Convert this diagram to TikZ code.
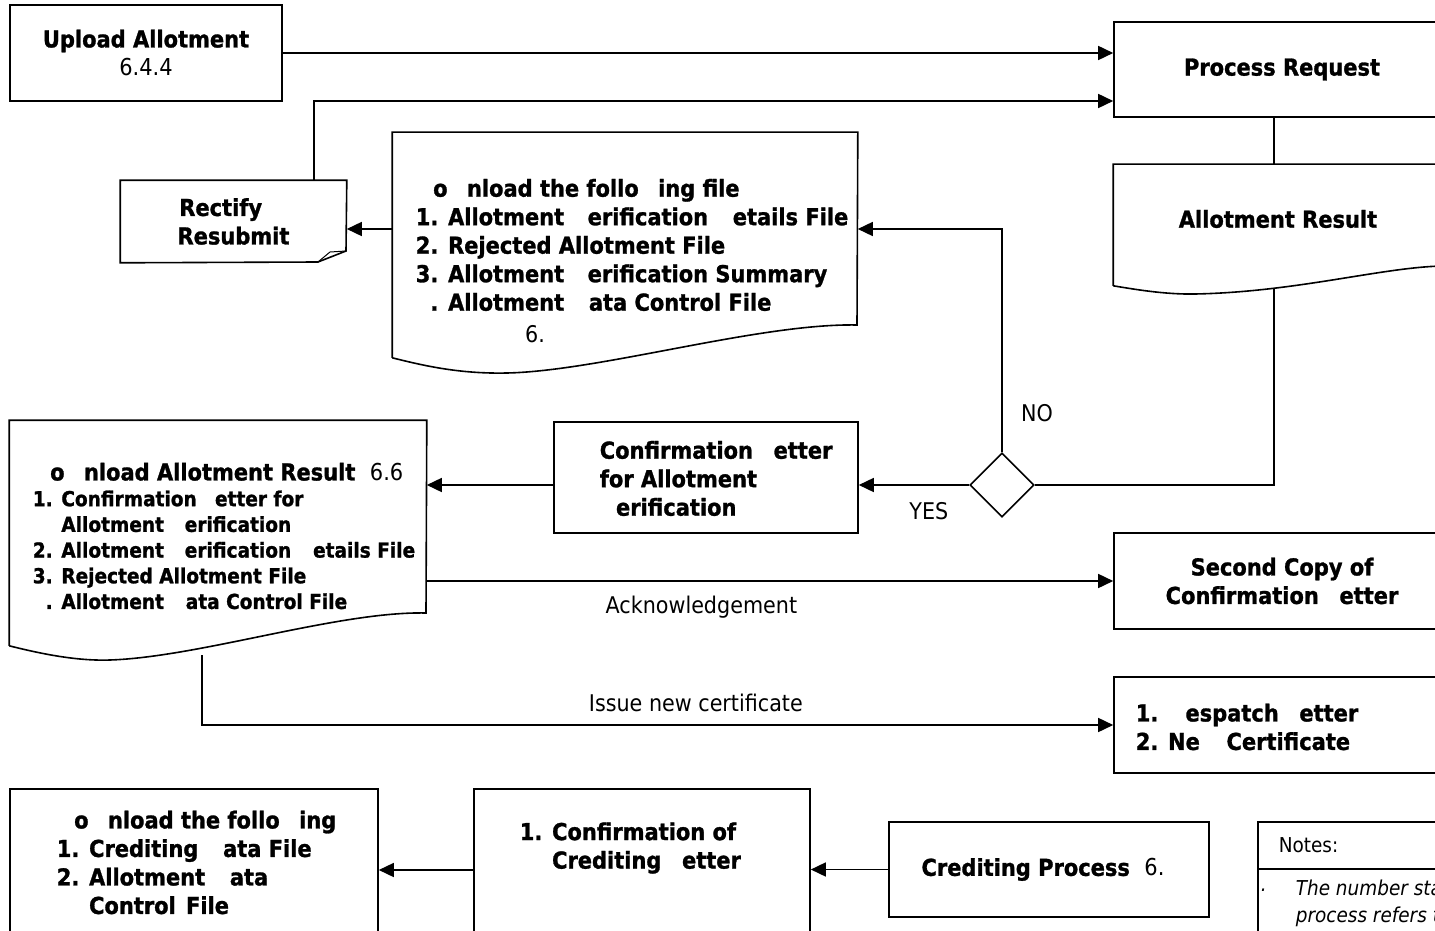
\documentclass[tikz,border=0pt]{standalone}
\usepackage{fontspec}
\setmainfont{DejaVu Sans}[FakeStretch=0.9, BoldFeatures={FakeBold=1.2}]
\usetikzlibrary{shapes.geometric,arrows.meta}
\begin{document}
\begin{tikzpicture}[x=1pt,y=-1pt,
  line width=1.6pt,
  box/.style={draw, rectangle, inner sep=0pt},
  frame/.style={rectangle, inner sep=0pt},
  txt/.style={inner sep=0pt, align=left, font=\fontsize{23.3}{28.5}\selectfont\bfseries},
  txtc/.style={txt, align=center},
  small/.style={inner sep=0pt, align=left, font=\fontsize{20.6}{25.7}\selectfont\bfseries},
  lbl/.style={inner sep=0pt, font=\fontsize{23}{28}\selectfont},
  note/.style={inner sep=0pt, align=left, font=\fontsize{20.5}{27}\selectfont},
  arr/.style={-{Triangle[length=15pt,width=14pt]}},
  decision/.style={draw, diamond, aspect=1, minimum width=64pt, minimum height=64pt, inner sep=0pt},
]
\useasboundingbox (0,0) rectangle (1435,931);
\clip (0,0) rectangle (1435,931);

% --- process boxes -------------------------------------------------------
\node[box, txtc, minimum width=272pt, minimum height=96pt] (upload) at (146,53)
  {Upload Allotment\\{\mdseries 6.4.4}};
\node[box, txtc, minimum width=336pt, minimum height=95pt] (proc) at (1282,69.5)
  {Process Request};
\node[box, minimum width=304pt, minimum height=111pt] (conf) at (706,477.5) {};
\node[box, txtc, minimum width=336pt, minimum height=96pt] (second) at (1282,581)
  {Second Copy of\\Confirmation \phantom{L}etter};
\node[box, minimum width=336pt, minimum height=96pt] (disp) at (1282,725) {};
\node[box, minimum width=368pt, minimum height=161pt] (dlc) at (194,869.5) {};
\node[box, minimum width=336pt, minimum height=161pt] (confc) at (642,869.5) {};
\node[box, txtc, minimum width=320pt, minimum height=95pt] (credp) at (1049,869.5)
  {Crediting Process\ \ {\mdseries 6.}\rule{12pt}{0pt}};
\node[box, minimum width=192pt, minimum height=128pt] (notes) at (1354,886) {};
\draw (notes.west |- 0,869) -- (notes.east |- 0,869);

% --- decision --------------------------------------------------------------
\node[decision] (dia) at (1002,485) {};

% --- document shapes (wavy bottom edge) ------------------------------------
\node[frame, minimum width=336pt, minimum height=120pt] (ares) at (1282,225) {};
\draw (ares.south west) -- (ares.north west) -- (ares.north east) -- (1450,266)
  .. controls (1390,265) and (1300,292) .. (1195,294)
  .. controls (1164,294.6) and (1133,289) .. (ares.south west);

\node[frame, minimum width=464pt, minimum height=224pt] (dl1) at (625,245) {};
\draw (dl1.south west) -- (dl1.north west) -- (dl1.north east) -- (857,325)
  .. controls (760,323) and (600,371) .. (507,373)
  .. controls (460,374) and (425,366) .. (dl1.south west);

\node[frame, minimum width=416pt, minimum height=224pt] (dl2) at (218,533) {};
\draw (dl2.south west) -- (dl2.north west) -- (dl2.north east) -- (426,613)
  .. controls (339,611) and (200,657) .. (110,660)
  .. controls (75,661.2) and (38,653) .. (dl2.south west);

% --- note with folded corner -----------------------------------------------
\node[frame, txtc, minimum width=225pt, minimum height=81pt] (rect) at (233.5,221.5)
  {Rectify \phantom{\&}\\Resubmit};
\draw (rect.south west) -- (rect.north west) -- (rect.north east) -- (346,251)
  -- (318,262) -- cycle;
\draw[line width=1pt] (318,262) -- (330,252) -- (346,251);

% --- box texts ---------------------------------------------------------------
\node[txt] (ares-t) at (1278,219) {Allotment Result};
\node[txt, anchor=west] (dl1-t) at (415,245)
  {\phantom{D}o\phantom{w}nload the follo\phantom{w}ing file\\
   1. Allotment \phantom{V}erification \phantom{D}etails File\\
   2. Rejected Allotment File\\
   3. Allotment \phantom{V}erification Summary\\
   \phantom{4}. Allotment \phantom{D}ata Control File};
\node[lbl] (dl1-n) at (535,334) {6.};
\node[small, anchor=west] (dl2-t) at (32,536)
  {{\fontsize{23.3}{27}\selectfont\phantom{D}o\phantom{w}nload Allotment Result\ \ {\mdseries 6.6}}\\
   1. Confirmation \phantom{L}etter for\\
   \phantom{1. }Allotment \phantom{V}erification\\
   2. Allotment \phantom{V}erification \phantom{D}etails File\\
   3. Rejected Allotment File\\
   \phantom{4}. Allotment \phantom{D}ata Control File};
\node[txt, anchor=west] (conf-t) at (599,478.5)
  {Confirmation \phantom{L}etter\\for Allotment\\\phantom{V}erification};
\node[txt, anchor=west] (disp-t) at (1135,727)
  {1. \phantom{D}espatch \phantom{L}etter\\2. Ne\phantom{w} Certificate};
\node[txt, anchor=west] (dlc-t) at (56,862.5)
  {\phantom{D}o\phantom{w}nload the follo\phantom{w}ing\\
   1. Crediting \phantom{D}ata File\\
   2. Allotment \phantom{D}ata\\
   \phantom{2. }Control \hspace{3pt}File};
\node[txt, anchor=west] (confc-t) at (519,848)
  {1. Confirmation of\\\phantom{1. }Crediting \phantom{L}etter};
\node[note, anchor=west] (notes-h) at (1278,845) {Notes:};
\node[note, anchor=west] (notes-d) at (1260,890) {\itshape .};
\node[note, anchor=west] (notes-t) at (1295,903.5)
  {\itshape The number stated\\\itshape process refers to};

% --- connectors -----------------------------------------------------------
\draw[arr] (upload.east) -- (upload.east -| proc.west);
\draw[arr] ([xshift=80.5pt]rect.north) |- ([yshift=-31.5pt]proc.west);
\draw ([xshift=-8pt]proc.south) -- ([xshift=-8pt]ares.north);
\coordinate (ares-out) at (1274,289);
\draw (ares-out) |- (dia.east);
\draw[arr] (dia.north) |- node[lbl, pos=0.087, xshift=35pt] (no) {NO} (dl1.east |- 0,229);
\draw[arr] (dl1.west |- 0,229) -- (rect.east |- 0,229);
\draw[arr] (dia.west) -- node[lbl, pos=0.366, yshift=-26pt] (yes) {YES} (dia.west -| conf.east);
\draw[arr] (conf.west |- dia) -- (dl2.east |- dia);
\draw[arr] (second.west -| dl2.east) -- node[lbl, pos=0.4, yshift=-26pt] (ack) {Acknowledgement} (second.west);
\coordinate (dl2-out) at (202,655);
\draw[arr] (dl2-out) |- node[lbl, pos=0.771, yshift=22pt] (issue) {Issue new certificate} (disp.west);
\draw[arr] (credp.west) -- (credp.west -| confc.east);
\draw[arr] (confc.west |- 0,870) -- (dlc.east |- 0,870);
\end{tikzpicture}
\end{document}
